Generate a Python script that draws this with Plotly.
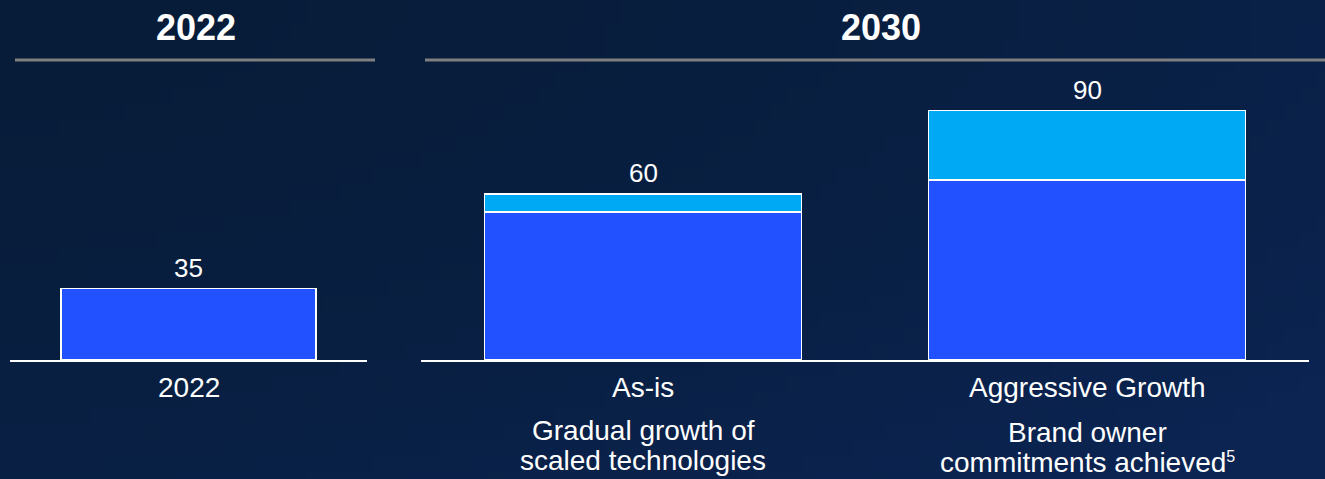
import base64
import struct
import zlib

import plotly.graph_objects as go

# ---------------- data ----------------
cat_2022 = ["2022"]
base_2022 = [35]

cats_2030 = ["As-is", "Aggressive Growth"]
base_2030 = [53.5, 65]
extra_2030 = [6.5, 25]
totals_2030 = [60, 90]

subtitles_2030 = [
    ["Gradual growth of", "scaled technologies"],
    ["Brand owner", "commitments achieved<span style='font-size:23px'><sup>5</sup></span>"],
]
headers = ["2022", "2030"]

# ---------------- style ----------------
W, H = 1325, 479
BG = "#071C38"
DARK = "#2251FF"
LIGHT = "#00A9F4"
FONT = "Arial, Liberation Sans, sans-serif"


def px(x):
    return x / W


def py(y):
    return 1 - y / H


def gradient_png(w=80, h=30, c0=(7, 28, 56), c1=(11, 36, 82)):
    rows = b""
    for j in range(h):
        row = b"\x00"
        for i in range(w):
            t = 0.55 * (i / (w - 1)) ** 1.5 + 0.45 * (j / (h - 1)) ** 1.5
            t = min(1.0, t * 1.1)
            row += bytes(int(round(a + (b - a) * t)) for a, b in zip(c0, c1))
        rows += row

    def chunk(tag, data):
        c = struct.pack(">I", len(data)) + tag + data
        return c + struct.pack(">I", zlib.crc32(tag + data) & 0xFFFFFFFF)

    png = b"\x89PNG\r\n\x1a\n"
    png += chunk(b"IHDR", struct.pack(">IIBBBBB", w, h, 8, 2, 0, 0, 0))
    png += chunk(b"IDAT", zlib.compress(rows))
    png += chunk(b"IEND", b"")
    return "data:image/png;base64," + base64.b64encode(png).decode()


BASE_Y = 360  # baseline pixel
fig = go.Figure()

fig.add_trace(go.Bar(x=cat_2022, y=base_2022, xaxis="x", yaxis="y",
                     marker=dict(color=DARK, line=dict(color="white", width=1.5)),
                     showlegend=False, hoverinfo="skip"))
fig.add_trace(go.Bar(x=cats_2030, y=base_2030, xaxis="x2", yaxis="y2",
                     marker=dict(color=DARK, line=dict(color="white", width=1.5)),
                     showlegend=False, hoverinfo="skip"))
fig.add_trace(go.Bar(x=cats_2030, y=extra_2030, xaxis="x2", yaxis="y2",
                     marker=dict(color=LIGHT, line=dict(color="white", width=1.5)),
                     showlegend=False, hoverinfo="skip"))

ydom = [py(BASE_Y), 1]
axis_common = dict(showgrid=False, zeroline=False, showticklabels=False, ticks="",
                   fixedrange=True)
fig.update_layout(
    width=W, height=H,
    margin=dict(l=0, r=0, t=0, b=0),
    paper_bgcolor=BG, plot_bgcolor="rgba(0,0,0,0)",
    barmode="stack", bargap=0.286,
    font=dict(family=FONT, color="white"),
    xaxis=dict(domain=[px(10), px(367)], anchor="y", type="category",
               range=[-0.5, 0.5], showline=True, linecolor="white", linewidth=2,
               **axis_common),
    yaxis=dict(domain=ydom, anchor="x", range=[0, BASE_Y / 2.04], visible=False,
               **axis_common),
    xaxis2=dict(domain=[px(421), px(1309)], anchor="y2", type="category",
                range=[-0.5, 1.5], showline=True, linecolor="white", linewidth=2,
                **axis_common),
    yaxis2=dict(domain=ydom, anchor="x2", range=[0, BASE_Y / 2.77], visible=False,
                **axis_common),
    images=[dict(source=gradient_png(), xref="paper", yref="paper", x=0, y=1,
                 sizex=1, sizey=1, sizing="stretch", layer="below",
                 xanchor="left", yanchor="top")],
)

ann = []
# headers
for txt, xc in zip(headers, [196, 881]):
    ann.append(dict(text=f"<b>{txt}</b>", x=px(xc), y=py(28), xref="paper", yref="paper",
                    xanchor="center", yanchor="middle", showarrow=False,
                    font=dict(size=36, color="white", family=FONT)))

# value labels (category index used as x position)
for i, v in enumerate(base_2022):
    ann.append(dict(text=str(v), x=i, y=v, xref="x", yref="y", yshift=21,
                    xanchor="center", yanchor="middle", showarrow=False,
                    font=dict(size=26, color="white", family=FONT)))
for i, v in enumerate(totals_2030):
    ann.append(dict(text=str(v), x=i, y=v, xref="x2", yref="y2", yshift=21,
                    xanchor="center", yanchor="middle", showarrow=False,
                    font=dict(size=26, color="white", family=FONT)))

# category labels
for i, c in enumerate(cat_2022):
    ann.append(dict(text=c, x=i, y=py(387), xref="x", yref="paper",
                    xanchor="center", yanchor="middle", showarrow=False,
                    font=dict(size=28, color="white", family=FONT)))
for i, c in enumerate(cats_2030):
    ann.append(dict(text=c, x=i, y=py(387), xref="x2", yref="paper",
                    xanchor="center", yanchor="middle", showarrow=False,
                    font=dict(size=28, color="white", family=FONT)))
    off = 0 if i == 0 else 2
    for j, line in enumerate(subtitles_2030[i]):
        # anchor on the bottom so a superscript does not shift the baseline
        ann.append(dict(text=line, x=i, y=py(431 + off + 30 * j + 16.5), xref="x2",
                        yref="paper", xanchor="center", yanchor="bottom",
                        showarrow=False,
                        font=dict(size=28, color="white", family=FONT)))

fig.update_layout(annotations=ann)

# header rules
fig.add_shape(type="line", xref="paper", yref="paper", x0=px(15), x1=px(375),
              y0=py(60), y1=py(60), line=dict(color="#7F7F7F", width=3))
fig.add_shape(type="line", xref="paper", yref="paper", x0=px(425), x1=1,
              y0=py(60), y1=py(60), line=dict(color="#7F7F7F", width=3))

fig.write_html("out.html")
